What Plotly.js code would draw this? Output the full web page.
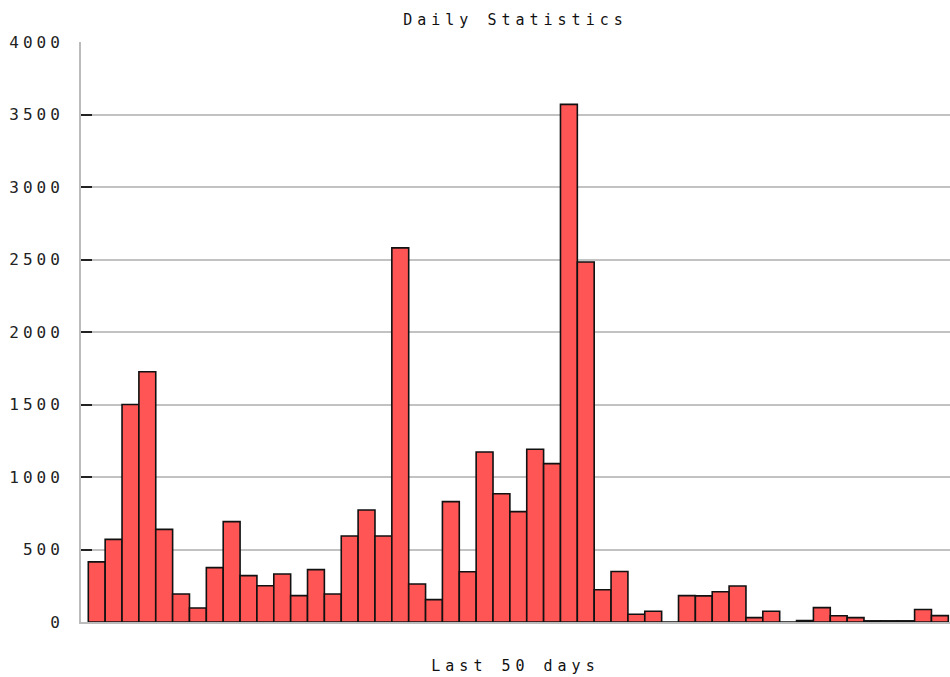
<!DOCTYPE html>
<html>
<head>
<meta charset="utf-8">
<script src="https://cdn.plot.ly/plotly-3.0.1.min.js"></script>
<style>
html,body{margin:0;padding:0;background:#fff;}
#chart{width:950px;height:677px;}
#chart svg text{letter-spacing:4px;}
#chart svg .gtitle, #chart svg .xtitle{letter-spacing:5px;}
</style>
</head>
<body>
<div id="chart"></div>
<script>
// Day index (1 = oldest) and daily counts
const days = [1,2,3,4,5,6,7,8,9,10,11,12,13,14,15,16,17,18,19,20,21,22,23,24,25,26,27,28,29,30,31,32,33,34,35,36,37,38,39,40,41,42,43,44,45,46,47,48,49,50,51];
const counts = [415,570,1500,1726,639,193,97,375,692,320,250,331,182,361,193,593,772,593,2580,262,154,830,347,1172,885,761,1191,1092,3570,2483,222,348,53,74,0,182,180,209,248,30,74,0,10,99,43,30,8,8,8,86,44];
const yTicks = [0,500,1000,1500,2000,2500,3000,3500,4000];
const titleText = "Daily Statistics";
const xTitleText = "Last 50 days";

const mono = "DejaVu Sans Mono, Liberation Mono, monospace";

const trace = {
  type: "bar",
  x: days,
  y: counts,
  width: 1,
  marker: {color: "#ff5555", line: {color: "#111111", width: 1.6}},
  hoverinfo: "x+y"
};

const layout = {
  width: 950,
  height: 677,
  margin: {l: 81, r: 0, t: 42, b: 55, pad: 0},
  paper_bgcolor: "#ffffff",
  plot_bgcolor: "#ffffff",
  showlegend: false,
  bargap: 0,
  title: {
    text: titleText,
    font: {family: mono, size: 15, color: "#111"},
    x: 0.5, xref: "paper", xanchor: "center",
    y: 1 - 20/677, yref: "container", yanchor: "middle"
  },
  xaxis: {
    range: [0.067, 51.6],
    showticklabels: false,
    ticks: "",
    showgrid: false,
    zeroline: false,
    showline: true,
    linecolor: "#bbbbbb",
    linewidth: 2,
    title: {text: xTitleText, font: {family: mono, size: 15, color: "#111"}, standoff: 37}
  },
  yaxis: {
    range: [0, 4000],
    tickvals: yTicks,
    ticktext: yTicks.map(String),
    ticks: "inside",
    ticklen: 11,
    tickwidth: 2,
    tickcolor: "#222",
    ticklabelstandoff: 12,
    tickfont: {family: mono, size: 16, color: "#222"},
    showgrid: true,
    gridcolor: "#c2c2c2",
    gridwidth: 2,
    zeroline: false,
    showline: true,
    linecolor: "#bbbbbb",
    linewidth: 2
  },
  yaxis2: {
    overlaying: "y",
    side: "right",
    range: [0, 4000],
    tickvals: yTicks,
    ticks: "inside",
    ticklen: 5,
    tickwidth: 2,
    tickcolor: "#333",
    showticklabels: false,
    showgrid: false,
    zeroline: false,
    showline: false
  }
};

Plotly.newPlot("chart", [trace], layout, {displayModeBar: false, staticPlot: true});
</script>
</body>
</html>
